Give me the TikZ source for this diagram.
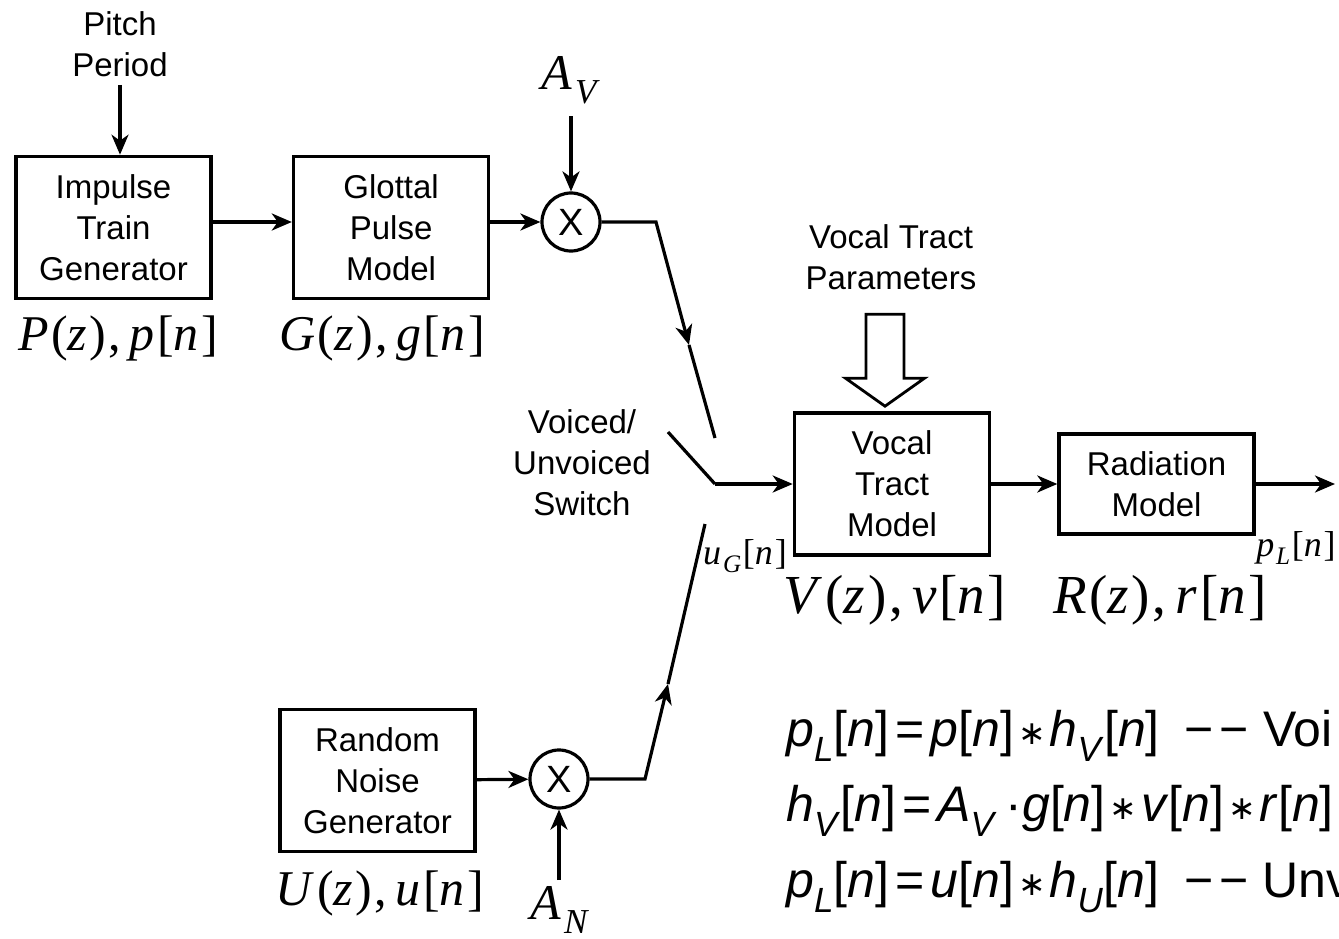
\documentclass[tikz,border=0pt]{standalone}
\usepackage{fontspec}
\setmainfont{Liberation Sans}
\newfontfamily\tmsfont{Liberation Serif}[LetterSpace=5]
\newfontfamily\symfont{DejaVu Sans}
\usepackage{tikz}
\usetikzlibrary{arrows.meta, positioning, calc}

\newcommand\blockfont{\fontsize{33}{41}\selectfont}
\newcommand\tffont{\tmsfont\fontsize{50}{54}\selectfont}
\newcommand\eqfont{\fontsize{50}{56}\selectfont}
\newcommand\vv[1]{\textit{#1}}
\newcommand\ssv[2]{\textit{#1}\textsubscript{\textit{#2}}}
\newcommand\conv{\kern4pt\raisebox{2pt}{\symfont\fontsize{33}{33}\selectfont\char"2217}\kern4pt}
\newcommand\eqs{\kern6pt=\kern6pt}
\newcommand\dashes{−\kern6pt−}

\begin{document}
\begin{tikzpicture}[
    x=1pt, y=-1pt,
    node distance=79pt,
    block/.style={rectangle, draw=black, line width=3.6pt,
                  minimum width=195pt, minimum height=142pt,
                  align=center, font=\blockfont, inner sep=2pt},
    mult/.style={circle, draw=black, line width=3.2pt, minimum size=58pt,
                 inner sep=0pt, font=\fontsize{38}{38}\selectfont},
    lbl/.style={align=center, font=\blockfont, inner sep=2pt},
    tf/.style={font=\tffont, inner sep=0pt},
    eq/.style={font=\eqfont, inner sep=0pt, anchor=west},
    arr/.style={-{Stealth[length=20pt, width=17pt, inset=6pt]}, line width=3.2pt},
    wire/.style={line width=3.2pt}
]
\useasboundingbox (0,0) rectangle (1339,939);
\clip (0,0) rectangle (1339,939);

% blocks
\node[block]                    (itg) at (113.5,227.5) {Impulse\\Train\\Generator};
\node[block, right=79pt of itg] (gpm) {Glottal\\Pulse\\Model};
\node[mult]                     (mv)  at (571,222) {X};
\node[block]                    (vtm) at (892,484) {Vocal\\Tract\\Model};
\node[block, minimum height=100pt, right=66pt of vtm] (rad) {Radiation\\Model};
\node[block]                    (rng) at (377.5,780.5) {Random\\Noise\\Generator};
\node[mult]                     (mn)  at (559,779) {X};

% inputs and labels
\node[lbl] (pitch) at (120,44) {Pitch\\Period};
\node[tf]  (av)    at (572,80) {\ssv{A}{V}};
\node[tf]  (an)    at (561,910) {\ssv{A}{N}};
\node[lbl] (vtp)   at (891,257) {Vocal Tract\\Parameters};
\node[lbl] (sw)    at (582,463) {Voiced/\\Unvoiced\\Switch};

\node[tf] (ptf) at (118,338) {\vv{P}(\vv{z}),\,\vv{p}[\vv{n}]};
\node[tf] (gtf) at (382,338) {\vv{G}(\vv{z}),\,\vv{g}[\vv{n}]};
\node[tf] (utf) at (380,893) {\vv{U}(\vv{z}),\,\vv{u}[\vv{n}]};
\node[tf, font=\tmsfont\fontsize{55}{60}\selectfont] (vtf) at (895,600) {\vv{V}(\vv{z}),\,\vv{v}[\vv{n}]};
\node[tf, font=\tmsfont\fontsize{55}{60}\selectfont] (rtf) at (1160,600) {\vv{R}(\vv{z}),\,\vv{r}[\vv{n}]};
\node[tf, font=\tmsfont\fontsize{36}{40}\selectfont] (ug) at (745,556) {\ssv{u}{G}[\vv{n}]};
\node[tf, font=\tmsfont\fontsize{36}{40}\selectfont] (pl) at (1296,548) {\ssv{p}{L}[\vv{n}]};

% equations
\node[eq] (eq1) at (786,736) {\ssv{p}{L}[\vv{n}]\eqs\vv{p}[\vv{n}]\conv\ssv{h}{V}[\vv{n}]\enspace\dashes\ Voi};
\node[eq] (eq2) at (786,811) {\ssv{h}{V}[\vv{n}]\eqs\ssv{A}{V}\,·\vv{g}[\vv{n}]\conv\vv{v}[\vv{n}]\conv\vv{r}[\vv{n}]};
\node[eq] (eq3) at (786,887) {\ssv{p}{L}[\vv{n}]\eqs\vv{u}[\vv{n}]\conv\ssv{h}{U}[\vv{n}]\enspace\dashes\ Unv};

% switch points
\coordinate (vk) at (656,222);
\coordinate (va) at (689,345);
\coordinate (ve) at (715,438);
\coordinate (sa) at (668,432);
\coordinate (sp) at (715,484);
\coordinate (nk) at (645,779);
\coordinate (na) at (668,684);
\coordinate (ne) at (705,524);
\coordinate (out) at (1335,484);
\coordinate (vtip) at ($(vtm.north)+(-7,-5)$);

% connectors
\draw[arr, shorten <=6pt] (pitch.south) -- (pitch.south |- itg.north);
\draw[arr] (itg.east |- mv) -- (gpm.west |- mv);
\draw[arr] (gpm.east |- mv) -- (mv.west);
\draw[arr, shorten <=12pt] (av.south -| mv) -- (mv.north);
\draw[arr] (mv.east) -- (vk) -- (va);
\draw[wire] (va) -- (ve);
\draw[wire] (sa) -- (sp);
\draw[arr] (sp) -- (vtm);
\draw[arr] (rng) -- (mn);
\draw[arr, shorten <=6pt] (an.north -| mn) -- (mn.south);
\draw[arr] (mn.east) -- (nk) -- (na);
\draw[wire] (na) -- (ne);
\draw[arr] (vtm) -- (rad);
\draw[arr] (rad) -- (out);

% hollow arrow for the parameters
\draw[line width=2.8pt, line join=miter]
    (vtip) ++(-19,-92) -- ++(38,0) -- ++(0,64) -- ++(20.5,0) -- (vtip)
    -- ++(-39.5,-28) -- ++(20.5,0) -- cycle;
\end{tikzpicture}
\end{document}
